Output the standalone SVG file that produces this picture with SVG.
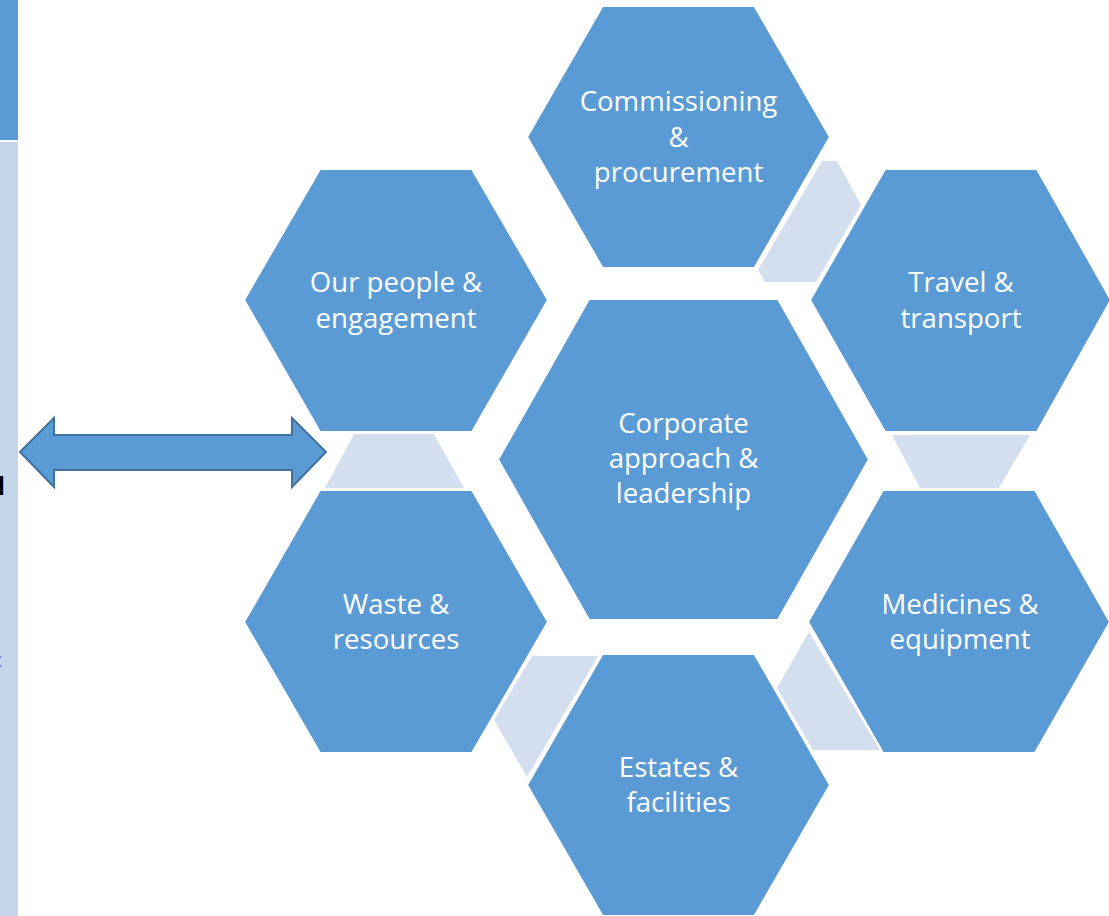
<svg xmlns="http://www.w3.org/2000/svg" width="1109" height="916" viewBox="0 0 1109 916">
<defs>
<style>
.hex{fill:#5B9BD5;stroke:#FFFFFF;stroke-width:2;}
.link{fill:#D3DEEF;stroke:none;}
.lbl{font-family:"Open Sans","Noto Sans",sans-serif;font-size:27.6px;fill:#FFFFFF;text-anchor:middle;}
.arrow{fill:#5B9BD5;stroke:#41719C;stroke-width:2;stroke-linejoin:miter;}
</style>
</defs>
<rect x="0" y="0" width="1109" height="916" fill="#FFFFFF"/>
<g id="side-panel">
<rect x="0" y="0" width="18" height="140" fill="#5B9BD5"/>
<rect x="0" y="142" width="18" height="774" fill="#C5D5EA"/>
<text x="-11" y="495" font-family="Liberation Sans, sans-serif" font-size="26" font-weight="bold" fill="#000000">d</text>
<text x="-3" y="667" font-family="Liberation Sans, sans-serif" font-size="20" fill="#666666">:</text>
</g>
<g id="connectors">
<polygon class="link" points="822,161 837,161 861,205 816,282 765,282 758,270"/>
<polygon class="link" points="892,435 1030,435 999,488 920,488"/>
<polygon class="link" points="354,434 434,434 464,488 325,488"/>
<polygon class="link" points="532,656 598,656 527,777 494,720"/>
<polygon class="link" points="809,632 880,750 813,750 777,688"/>
<polygon class="arrow" points="20,452 54,418 54,435 292,435 292,418 326,452 292,487 292,470 54,470 54,487"/>
</g>
<g id="node-commissioning">
<polygon class="hex" points="602.5,6 754.5,6 830,137 754.5,268 602.5,268 527,137"/>
<text class="lbl" x="678.5" y="111">Commissioning</text>
<text class="lbl" x="678.5" y="146.5">&amp;</text>
<text class="lbl" x="678.5" y="182">procurement</text>
</g>
<g id="node-people">
<polygon class="hex" points="320,169 472,169 548,300 472,432 320,432 244,300"/>
<text class="lbl" x="396" y="292">Our people &amp;</text>
<text class="lbl" x="396" y="327.5">engagement</text>
</g>
<g id="node-travel">
<polygon class="hex" points="885,169 1037,169 1111,300 1037,432 885,432 810,300"/>
<text class="lbl" x="961" y="292">Travel &amp;</text>
<text class="lbl" x="961" y="327.5">transport</text>
</g>
<g id="node-corporate">
<polygon class="hex" points="589,299 778,299 869,459.5 778,620 589,620 498,459.5"/>
<text class="lbl" x="683.5" y="433">Corporate</text>
<text class="lbl" x="683.5" y="468">approach &amp;</text>
<text class="lbl" x="683.5" y="503">leadership</text>
</g>
<g id="node-waste">
<polygon class="hex" points="320,490 472,490 548,622 472,753 320,753 244,622"/>
<text class="lbl" x="396" y="614">Waste &amp;</text>
<text class="lbl" x="396" y="649">resources</text>
</g>
<g id="node-medicines">
<polygon class="hex" points="883,490 1035,490 1110,622 1035,753 883,753 808,622"/>
<text class="lbl" x="960" y="614">Medicines &amp;</text>
<text class="lbl" x="960" y="649">equipment</text>
</g>
<g id="node-estates">
<polygon class="hex" points="602.5,654 754.5,654 830,785 754.5,916 602.5,916 527,785"/>
<text class="lbl" x="678.5" y="777">Estates &amp;</text>
<text class="lbl" x="678.5" y="812">facilities</text>
</g>
</svg>
